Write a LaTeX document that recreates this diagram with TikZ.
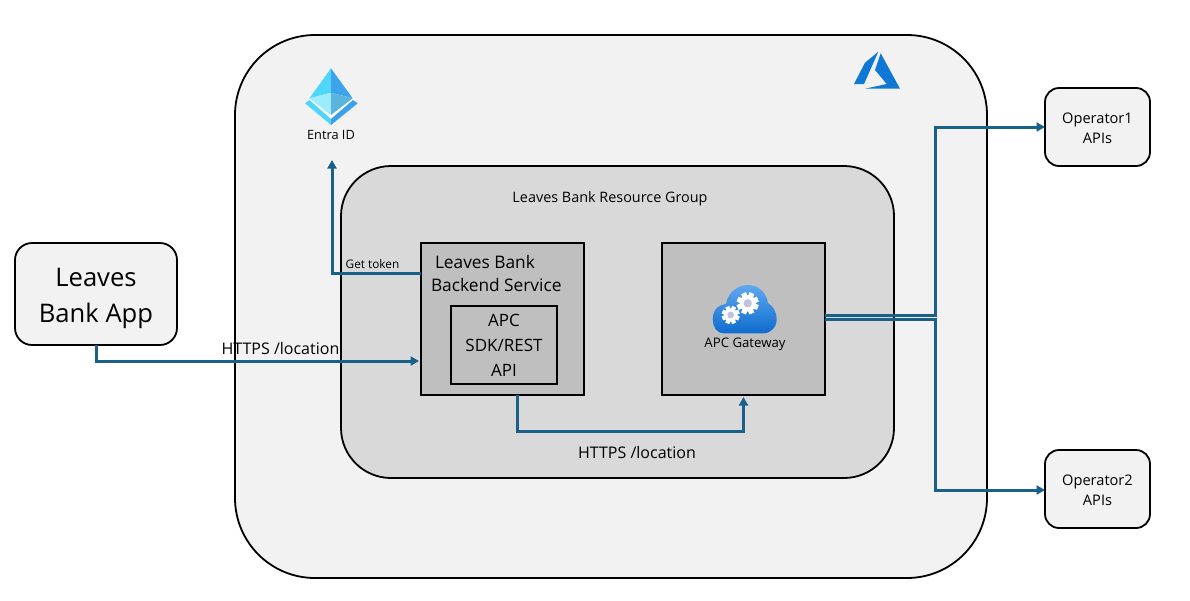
\documentclass[tikz,border=0pt]{standalone}
\usepackage{fontspec}
\setmainfont{Open Sans}
\usetikzlibrary{arrows.meta,calc}
\definecolor{linkblue}{HTML}{19618A}
\definecolor{panel}{HTML}{F2F2F2}
\definecolor{rgfill}{HTML}{D9D9D9}
\definecolor{svc}{HTML}{BFBFBF}
\definecolor{azure}{HTML}{0F78D4}
\newcommand{\gearicon}[3]{%
  \begin{scope}[shift={(#1,#2)}]
    \foreach \a in {0,45,...,315}{
      \fill[white,rotate=\a+22.5] (-#3*0.24,0) rectangle (#3*0.24,#3);
    }
    \fill[white] (0,0) circle[radius=#3*0.74];
    \fill[gray!60!blue!35] (0,0) circle[radius=#3*0.38];
  \end{scope}}
\tikzset{
  x=1pt,y=-1pt,
  every node/.style={inner sep=0pt,outer sep=0pt,align=center},
  boxbase/.style={draw=black,line width=1.8pt,anchor=center},
  outerpanel/.style={boxbase,fill=panel,rounded corners=80pt,minimum width=752pt,minimum height=543pt},
  rgpanel/.style={boxbase,fill=rgfill,rounded corners=50pt,minimum width=553pt,minimum height=312pt},
  svcbox/.style={boxbase,fill=svc,minimum width=163pt,minimum height=152pt},
  sdkbox/.style={boxbase,fill=svc,minimum width=106pt,minimum height=78pt,font=\fontsize{17}{25}\selectfont},
  appbox/.style={boxbase,fill=panel,rounded corners=17pt,minimum width=162pt,minimum height=102pt,font=\fontsize{25.6}{36}\selectfont},
  opbox/.style={boxbase,fill=panel,rounded corners=14pt,minimum width=105pt,minimum height=78pt,font=\fontsize{14.6}{19.5}\selectfont},
  link/.style={draw=linkblue,line width=3pt,-{Triangle[length=8.5pt,width=9pt]}},
  linklabel/.style={font=\fontsize{16}{18}\selectfont},
  smalllabel/.style={font=\fontsize{11.8}{13}\selectfont},
}
\begin{document}
\begin{tikzpicture}
\useasboundingbox (0,0) rectangle (1190,600);
\node[outerpanel] (azurepanel) at (611,306.5) {};
\node[rgpanel] (rg) at (617.5,322) {};
\node[svcbox] (backend) at (502.5,319) {};
\node[svcbox] (gateway) at (743.5,319) {};
\node[sdkbox] (sdk) at (504,345) {APC\\SDK/REST\\API};
\node[appbox] (app) at (96,294) {\rule{0pt}{26.5pt}Leaves\\Bank App};
\node[opbox] (op1) at (1097.5,127) {\rule{0pt}{13pt}Operator1\\APIs};
\node[opbox] (op2) at (1097.5,489) {\rule{0pt}{13pt}Operator2\\APIs};
\node[font=\fontsize{14.4}{18}\selectfont] (rglabel) at (610,199) {Leaves Bank Resource Group};
\node[font=\fontsize{17.3}{23}\selectfont,align=left,anchor=north west] (backendlabel) at (431,255) {\hspace*{4pt}Leaves Bank\\Backend Service};
% Entra ID icon
\node[font=\fontsize{12.8}{14}\selectfont] (entralabel) at (331,135) {Entra ID};
\fill[white] (331,68.3) -- (357.7,103.3) -- (331,125) -- (305,103.3) -- cycle;
\fill[fill={rgb,255:red,80;green,213;blue,251}] (305,103.3) -- (309.5,100) -- (331,119) -- (331,125) -- cycle;
\fill[fill={rgb,255:red,61;green,159;blue,235}] (357.7,103.3) -- (353,100) -- (331,119) -- (331,125) -- cycle;
\fill[fill={rgb,255:red,80;green,213;blue,251}] (331,68.3) -- (309.3,98.3) -- (331,92.7) -- cycle;
\fill[fill={rgb,255:red,60;green,163;blue,236}] (331,68.3) -- (352.7,98.3) -- (331,92.7) -- cycle;
\fill[fill={rgb,255:red,156;green,235;blue,255}] (309.3,98.3) -- (331,92.7) -- (331,115) -- cycle;
\fill[fill={rgb,255:red,90;green,180;blue,222}] (352.7,98.3) -- (331,92.7) -- (331,115) -- cycle;
% Azure logo
\fill[azure] (878.3,51.7) -- (865,62.7) -- (854,84) -- (864,84) -- cycle;
\fill[azure] (880.7,53.3) -- (875,70) -- (886.7,84) -- (865,88.7) -- (900,88.7) -- cycle;
% APC Gateway icon
\shade[top color={rgb,255:red,96;green,168;blue,240},bottom color={rgb,255:red,14;green,108;blue,205}]
  (724,333.3) .. controls (716,333.3) and (712.7,326) .. (712.7,319)
  .. controls (712.7,310) and (719,304) .. (726,304)
  .. controls (728,292) and (738,285) .. (748,285)
  .. controls (758,285) and (766,292) .. (768,303)
  .. controls (773,306) and (776.7,312) .. (776.7,319)
  .. controls (776.7,327) and (771,333.3) .. (763,333.3) -- cycle;
\gearicon{747.7}{303.3}{11}
\gearicon{730.7}{315}{9}
\node[font=\fontsize{13.2}{14}\selectfont] (gwlabel) at (745,344) {APC Gateway};
% connectors
\draw[link] (app.south) |- ([xshift=-2pt]backend.west |- 0,361);
\draw[link] (backend.west |- 0,273) -- (332,273) -- (332,160);
\draw[link] ([xshift=14.5pt]backend.south) -- ++(0,36) -| ([yshift=-2pt]gateway.south);
\draw[link] (gateway.east |- 0,315) -- (935.5,315) |- (op1.west);
\draw[link] (gateway.east |- 0,319.5) -- (935.5,319.5) |- ([yshift=-1pt]op2.west);
\node[smalllabel] (tokenlabel) at (372.5,264.5) {Get token};
\node[linklabel] (httpsa) at (280.5,348.5) {HTTPS /location};
\node[linklabel] (httpsb) at (637,452.5) {HTTPS /location};
\end{tikzpicture}
\end{document}
